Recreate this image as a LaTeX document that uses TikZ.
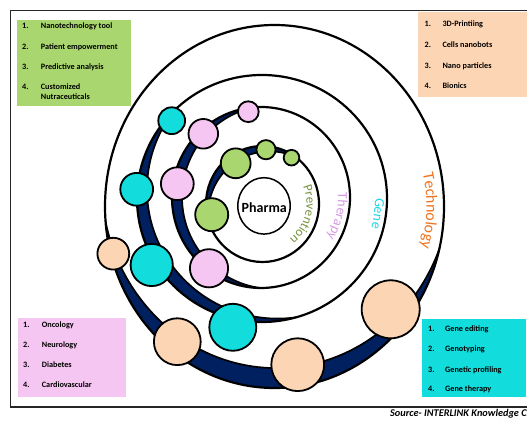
\documentclass[tikz,border=0pt]{standalone}
\usepackage{fontspec}
\setmainfont{Carlito}
\usetikzlibrary{calc,decorations.text}

\definecolor{orbitnavy}{HTML}{002060}
\definecolor{leafgreen}{HTML}{A9D66F}
\definecolor{rosepink}{HTML}{F6C6F2}
\definecolor{aquacyan}{HTML}{12DCDC}
\definecolor{peachtone}{HTML}{FCD5B4}
\definecolor{preventc}{HTML}{77933C}
\definecolor{therapyc}{HTML}{D69CE6}
\definecolor{genec}{HTML}{1ED8E6}
\definecolor{techc}{HTML}{EE7420}

% #1,#2 centre, #3,#4 radii of the orbit; #5,#6 centre, #7,#8 radii of the
% shifted ellipse that cuts the dark crescent out of the orbit
\newcommand{\orbitring}[8]{%
  \begin{scope}
    \clip (#1,#2) ellipse [x radius=#3, y radius=#4];
    \fill[orbitnavy] (#1,#2) ellipse [x radius=#3, y radius=#4];
    \fill[white] (#5,#6) ellipse [x radius=#7, y radius=#8];
    \draw[bandedge] (#5,#6) ellipse [x radius=#7, y radius=#8];
  \end{scope}
  \draw[orbitline] (#1,#2) ellipse [x radius=#3, y radius=#4];
}

\begin{document}
\begin{tikzpicture}[x=1pt,y=1pt,
  orbitline/.style={draw=black, line width=2.2pt},
  bandedge/.style={draw=black, line width=1.7pt},
  bead/.style={circle, draw=black, line width=1.8pt, inner sep=0pt},
  listbox/.style={anchor=south west, inner sep=0pt, outer sep=0pt},
  itemtext/.style={anchor=base west, inner sep=0pt, font=\fontsize{8.2}{9.5}\selectfont\bfseries},
  arclabel/.style={decorate, decoration={text along path, text align=center}}]
\useasboundingbox (0,0) rectangle (527,422);
\clip (0,0) rectangle (527,422);
\fill[white] (0,0) rectangle (527,422);

% outer frame
\draw[black!85, line width=1.1pt] (10.5,15) rectangle (540,411.5);

% coloured list boxes
\node[listbox, fill=leafgreen, minimum width=114pt, minimum height=86pt] (greenbox) at (17,316) {};
\node[listbox, fill=peachtone, minimum width=109pt, minimum height=84.5pt] (peachbox) at (418,325) {};
\node[listbox, fill=rosepink, minimum width=108pt, minimum height=79pt] (pinkbox) at (18,25) {};
\node[listbox, fill=aquacyan, minimum width=104pt, minimum height=78pt] (cyanbox) at (422,25) {};

\node[itemtext] (gn1) at (22,393) {1.};
\node[itemtext] (gt1) at (40.7,393) {Nanotechnology tool};
\node[itemtext] (gn2) at (22,372.7) {2.};
\node[itemtext] (gt2) at (40.7,372.7) {Patient empowerment};
\node[itemtext] (gn3) at (22,352.4) {3.};
\node[itemtext] (gt3) at (40.7,352.4) {Predictive analysis};
\node[itemtext] (gn4) at (22,332.4) {4.};
\node[itemtext] (gt4) at (40.7,332.4) {Customized};
\node[itemtext] (gt4b) at (40.7,322.4) {Nutraceuticals};

\node[itemtext] (pn1) at (424.5,395.7) {1.};
\node[itemtext] (pt1) at (442.3,395.7) {3D-Printiing};
\node[itemtext] (pn2) at (424.5,374.7) {2.};
\node[itemtext] (pt2) at (442.3,374.7) {Cells nanobots};
\node[itemtext] (pn3) at (424.5,353) {3.};
\node[itemtext] (pt3) at (442.3,353) {Nano particles};
\node[itemtext] (pn4) at (424.5,333.7) {4.};
\node[itemtext] (pt4) at (442.3,333.7) {Bionics};

\node[itemtext] (kn1) at (23,94) {1.};
\node[itemtext] (kt1) at (41.7,94) {Oncology};
\node[itemtext] (kn2) at (23,74.7) {2.};
\node[itemtext] (kt2) at (41.7,74.7) {Neurology};
\node[itemtext] (kn3) at (23,54.7) {3.};
\node[itemtext] (kt3) at (41.7,54.7) {Diabetes};
\node[itemtext] (kn4) at (23,34.7) {4.};
\node[itemtext] (kt4) at (41.7,34.7) {Cardiovascular};

\node[itemtext] (cn1) at (428,90.4) {1.};
\node[itemtext] (ct1) at (445,90.4) {Gene editing};
\node[itemtext] (cn2) at (428,70.4) {2.};
\node[itemtext] (ct2) at (445,70.4) {Genotyping};
\node[itemtext] (cn3) at (428,49.7) {3.};
\node[itemtext] (ct3) at (445,49.7) {Genetic profiling};
\node[itemtext] (cn4) at (428,30.4) {4.};
\node[itemtext] (ct4) at (445,30.4) {Gene therapy};

% orbits, outermost first
\orbitring{274.5}{215.5}{169.5}{181.5}{276.3}{240.8}{174.9}{186.9}
\orbitring{262}{223.5}{125}{123.5}{277.6}{232.5}{130.6}{129.1}
\orbitring{261}{224.5}{89}{90.5}{272.2}{224.9}{90.2}{91.7}
\orbitring{262.5}{218}{56.5}{58}{269.6}{207.7}{61.5}{63}

% core
\draw[black, line width=1.5pt] (264,216.1) ellipse [x radius=26.2, y radius=28.2];
\node[anchor=base, inner sep=0pt, font=\fontsize{14}{14}\selectfont\bfseries] (pharma) at (264.3,209.3) {Pharma};

% orbit names set along arcs
\path[arclabel, decoration={text={|\fontsize{13}{13}\selectfont\color{preventc}|Prevention}}]
  ($(262.5,218)+(45.5:44)$) arc [start angle=45.5, end angle=-74.5, radius=44];
\path[arclabel, decoration={text={|\fontsize{14}{14}\selectfont\color{therapyc}|Therapy}}]
  ($(261,224.5)+(36.1:77)$) arc [start angle=36.1, end angle=-63.9, radius=77];
\path[arclabel, decoration={text={|\fontsize{14}{14}\selectfont\color{genec}|Gene}}]
  ($(262,223.5)+(22.6:113)$) arc [start angle=22.6, end angle=-37.4, radius=113];
\path[arclabel, decoration={text={|\fontsize{16}{16}\selectfont\color{techc}|Technology}}]
  ($(274.5,215.5)+(23.4:152)$) arc [start angle=23.4, end angle=-26.6, radius=152];

% beads on the orbits
\node[bead, fill=peachtone, minimum size=31.8pt] (t1) at (113.3,168.3) {};
\node[bead, fill=peachtone, minimum size=46.8pt] (t2) at (177.3,80.3) {};
\node[bead, fill=peachtone, minimum size=52.8pt] (t3) at (297.7,57.3) {};
\node[bead, fill=peachtone, minimum size=58pt] (t4) at (390.7,112.7) {};

\node[bead, fill=aquacyan, minimum size=26.8pt] (c1) at (171.7,301.3) {};
\node[bead, fill=aquacyan, minimum size=32.8pt] (c2) at (136.7,232.7) {};
\node[bead, fill=aquacyan, minimum size=42.2pt] (c3) at (151.7,157) {};
\node[bead, fill=aquacyan, minimum size=47pt] (c4) at (232.8,94.7) {};

\node[bead, fill=rosepink, minimum size=20.8pt] (p1) at (248.3,310.3) {};
\node[bead, fill=rosepink, minimum size=29.6pt] (p2) at (203.3,288.2) {};
\node[bead, fill=rosepink, minimum size=32.8pt] (p3) at (177.3,238.3) {};
\node[bead, fill=rosepink, minimum size=38.2pt] (p4) at (209,153.7) {};

\node[bead, fill=leafgreen, minimum size=15.6pt] (g1) at (291.5,264.3) {};
\node[bead, fill=leafgreen, minimum size=19.2pt] (g2) at (266,272.3) {};
\node[bead, fill=leafgreen, minimum size=29.8pt] (g3) at (235.7,258.7) {};
\node[bead, fill=leafgreen, minimum size=33pt] (g4) at (211.7,207.3) {};

% source line
\node[anchor=base west, inner sep=0pt, font=\fontsize{10.3}{10.3}\selectfont\bfseries\itshape] (source) at (390,5) {Source- INTERLINK Knowledge Cloud};
\end{tikzpicture}
\end{document}
